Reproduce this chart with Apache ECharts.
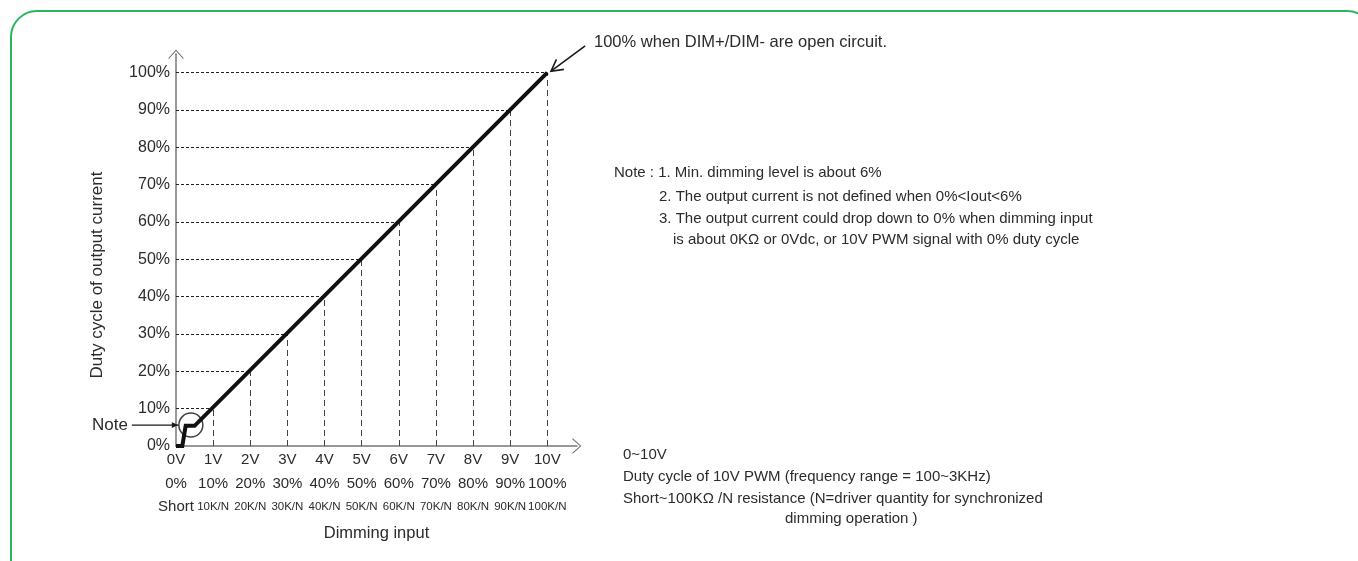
<!DOCTYPE html>
<html>
<head>
<meta charset="utf-8">
<title>Dimming curve</title>
<script src="https://cdn.jsdelivr.net/npm/echarts@6/dist/echarts.min.js"></script>
<style>
  html, body { margin: 0; padding: 0; background: #fff; }
  #chart { width: 1358px; height: 561px; }
</style>
</head>
<body>
<div id="chart"></div>
<script>
// dimming input (V) vs duty cycle of output current (%)
const curveX = [0, 0.17, 0.26, 0.5, 10]
const curveY = [0, 0, 5.4, 5.4, 100]

// dashed guide lines meet the curve at each step
const guideX = [1, 2, 3, 4, 5, 6, 7, 8, 9, 10]
const guideY = [10, 20, 30, 40, 50, 60, 70, 80, 90, 100]

// x tick labels, three rows
const voltLabels = ['0V', '1V', '2V', '3V', '4V', '5V', '6V', '7V', '8V', '9V', '10V']
const pwmLabels = ['0%', '10%', '20%', '30%', '40%', '50%', '60%', '70%', '80%', '90%', '100%']
const resLabels = ['Short', '10K/N', '20K/N', '30K/N', '40K/N', '50K/N', '60K/N', '70K/N', '80K/N', '90K/N', '100K/N']

// circled "Note" region and the two annotation arrows [x1, y1, x2, y2, kind] (data units)
const noteCircle = [0.4, 5.6]
const noteArrow = [-1.19, 5.6, 0.06, 5.6, 0]
const openArrow = [11.02, 107.2, 10.1, 100.4, 1]

const axisMax = { x: 10.8, y: 105 }

const FONT = "'Liberation Sans', Arial, sans-serif"
const TXT = '#2b2b2b'
const axisChevron = 'path://M0,9 L8,0 L16,9 L14.6,9 L8,1.6 L1.4,9 Z'

const chart = echarts.init(document.getElementById('chart'))

const rowRich = {
  a: { fontSize: 15, lineHeight: 24, color: TXT, fontFamily: FONT },
  b: { fontSize: 15, lineHeight: 24, color: TXT, fontFamily: FONT },
  s: { fontSize: 15, lineHeight: 22, color: TXT, fontFamily: FONT },
  c: { fontSize: 11.5, lineHeight: 22, color: TXT, fontFamily: FONT },
}

function renderArrow(params, api) {
  const p1 = api.coord([api.value(0), api.value(1)])
  const p2 = api.coord([api.value(2), api.value(3)])
  const kind = api.value(4)
  const ang = Math.atan2(p2[1] - p1[1], p2[0] - p1[0])
  const len = kind === 1 ? 13 : 7
  const spread = kind === 1 ? 0.5 : 0.42
  const a1 = [p2[0] - len * Math.cos(ang - spread), p2[1] - len * Math.sin(ang - spread)]
  const a2 = [p2[0] - len * Math.cos(ang + spread), p2[1] - len * Math.sin(ang + spread)]
  const stroke = { stroke: '#1a1a1a', lineWidth: kind === 1 ? 1.6 : 1.2, fill: null }
  const head = kind === 1
    ? { type: 'polyline', shape: { points: [a1, p2, a2] }, style: stroke }
    : { type: 'polygon', shape: { points: [a1, p2, a2] }, style: { fill: '#1a1a1a' } }
  return {
    type: 'group',
    children: [
      { type: 'line', shape: { x1: p1[0], y1: p1[1], x2: p2[0], y2: p2[1] }, style: stroke },
      head,
    ],
  }
}

const option = {
  animation: false,
  backgroundColor: '#fff',
  grid: { left: 176, right: 781, top: 54, bottom: 115 },
  xAxis: {
    type: 'value',
    min: 0,
    max: axisMax.x,
    interval: 1,
    splitLine: { show: false },
    axisTick: { show: false },
    axisLine: {
      lineStyle: { color: '#777', width: 1.5 },
      symbol: ['none', axisChevron],
      symbolSize: [16, 9],
    },
    axisLabel: {
      margin: 2,
      showMaxLabel: false,
      rich: rowRich,
      formatter(v) {
        if (Math.abs(v - Math.round(v)) > 1e-6 || v > 10) return ''
        const i = Math.round(v)
        const third = i === 0 ? `{s|${resLabels[i]}}` : `{c|${resLabels[i]}}`
        return `{a|${voltLabels[i]}}\n{b|${pwmLabels[i]}}\n${third}`
      },
    },
    name: 'Dimming input',
    nameLocation: 'middle',
    nameGap: 79,
    nameTextStyle: { fontSize: 16.5, color: TXT, fontFamily: FONT },
  },
  yAxis: {
    type: 'value',
    min: 0,
    max: axisMax.y,
    interval: 10,
    splitLine: { show: false },
    axisTick: { show: false },
    axisLine: {
      lineStyle: { color: '#777', width: 1.5 },
      symbol: ['none', axisChevron],
      symbolSize: [16, 9],
    },
    axisLabel: {
      margin: 6,
      showMaxLabel: false,
      fontSize: 16,
      color: TXT,
      fontFamily: FONT,
      formatter: v => (v > 100 ? '' : v + '%'),
    },
  },
  graphic: [
    {
      type: 'rect',
      shape: { x: 11, y: 11, width: 1362, height: 575, r: 26 },
      style: { fill: 'none', stroke: '#2bb55a', lineWidth: 2 },
      silent: true,
    },
    {
      type: 'text',
      x: 97, y: 275,
      rotation: Math.PI / 2,
      style: { text: 'Duty cycle of output current', fontSize: 17, fill: TXT, fontFamily: FONT, align: 'center', verticalAlign: 'middle' },
    },
    {
      type: 'text',
      x: 128, y: 425,
      style: { text: 'Note', fontSize: 17, fill: TXT, fontFamily: FONT, align: 'right', verticalAlign: 'middle' },
    },
    {
      type: 'text',
      x: 594, y: 42,
      style: { text: '100% when DIM+/DIM- are open circuit.', fontSize: 16.5, fill: TXT, fontFamily: FONT, verticalAlign: 'middle' },
    },
    {
      type: 'text',
      x: 614, y: 162,
      style: {
        text: 'Note : 1. Min. dimming level is about 6%',
        fontSize: 15, fill: TXT, fontFamily: FONT, lineHeight: 22,
      },
    },
    {
      type: 'text',
      x: 659, y: 186,
      style: {
        text: '2. The output current is not defined when 0%<Iout<6%\n3. The output current could drop down to 0% when dimming input',
        fontSize: 15, fill: TXT, fontFamily: FONT, lineHeight: 22,
      },
    },
    {
      type: 'text',
      x: 673, y: 229,
      style: {
        text: 'is about 0KΩ or 0Vdc, or 10V PWM signal with 0% duty cycle',
        fontSize: 15, fill: TXT, fontFamily: FONT, lineHeight: 22,
      },
    },
    {
      type: 'text',
      x: 623, y: 444,
      style: {
        text: '0~10V\nDuty cycle of 10V PWM (frequency range = 100~3KHz)\nShort~100KΩ /N resistance (N=driver quantity for synchronized',
        fontSize: 15, fill: TXT, fontFamily: FONT, lineHeight: 22,
      },
    },
    {
      type: 'text',
      x: 785, y: 508,
      style: { text: 'dimming operation )', fontSize: 15, fill: TXT, fontFamily: FONT, lineHeight: 22 },
    },
  ],
  series: [
    {
      name: 'hGuide',
      type: 'line',
      data: [],
      markLine: {
        silent: true,
        symbol: 'none',
        label: { show: false },
        lineStyle: { type: [3, 2], color: '#222', width: 1 },
        data: guideY.map((y, i) => [{ coord: [0, y] }, { coord: [guideX[i], y] }]),
      },
    },
    {
      name: 'vGuide',
      type: 'line',
      data: [],
      markLine: {
        silent: true,
        symbol: 'none',
        label: { show: false },
        lineStyle: { type: [6, 4], color: '#444', width: 1 },
        data: guideX.map((x, i) => [{ coord: [x, 0] }, { coord: [x, guideY[i]] }]),
      },
    },
    {
      name: 'curve',
      type: 'line',
      z: 5,
      symbol: 'none',
      lineStyle: { color: '#111', width: 4, join: 'miter' },
      data: curveX.map((x, i) => [x, curveY[i]]),
    },
    {
      name: 'noteCircle',
      type: 'scatter',
      z: 6,
      symbol: 'circle',
      symbolSize: 24,
      itemStyle: { color: 'rgba(0,0,0,0)', borderColor: '#111', borderWidth: 1.5 },
      data: [noteCircle],
    },
    {
      name: 'arrows',
      type: 'custom',
      clip: false,
      silent: true,
      z: 6,
      encode: { x: [0, 2], y: [1, 3] },
      renderItem: renderArrow,
      data: [noteArrow, openArrow],
    },
  ],
}

chart.setOption(option)
window.addEventListener('resize', () => chart.resize())
</script>
</body>
</html>
